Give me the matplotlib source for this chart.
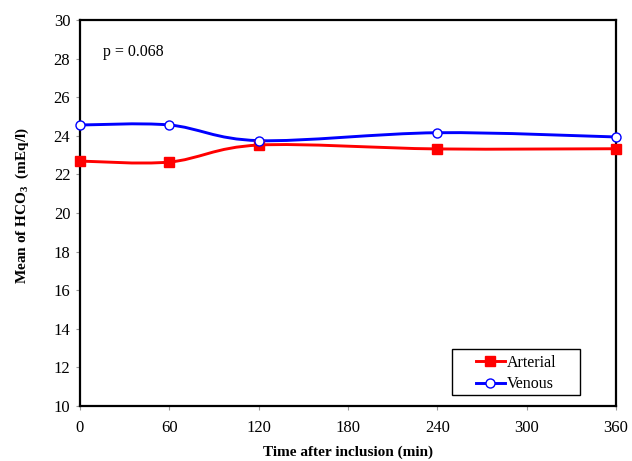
import matplotlib
matplotlib.use("Agg")
import matplotlib.pyplot as plt
from matplotlib.path import Path
from matplotlib.patches import PathPatch, Rectangle
from matplotlib.lines import Line2D
import numpy as np

times = [0, 60, 120, 240, 360]
arterial = [22.69, 22.64, 23.52, 23.32, 23.33]
venous = [24.56, 24.56, 23.75, 24.16, 23.94]
xticks = [0, 60, 120, 180, 240, 300, 360]
yticks = [10, 12, 14, 16, 18, 20, 22, 24, 26, 28, 30]

plt.rcParams['font.family'] = ['Liberation Serif', 'DejaVu Serif']
plt.rcParams['mathtext.fontset'] = 'custom'
plt.rcParams['mathtext.rm'] = 'Liberation Serif'
plt.rcParams['mathtext.bf'] = 'Liberation Serif:bold'

W, H = 632, 461
L, R, T, B = 80, 616, 20, 406

fig = plt.figure(figsize=(W/100, H/100), dpi=100)
ax = fig.add_axes([L/W, 1-B/H, (R-L)/W, (B-T)/H])


def smooth_path(x, y, t=1/6):
    x = np.asarray(x, float); y = np.asarray(y, float)
    n = len(x)
    verts = [(x[0], y[0])]
    codes = [Path.MOVETO]
    for i in range(n - 1):
        p0 = (x[i-1], y[i-1]) if i > 0 else (x[i], y[i])
        p1 = (x[i], y[i]); p2 = (x[i+1], y[i+1])
        p3 = (x[i+2], y[i+2]) if i + 2 < n else (x[i+1], y[i+1])
        c1 = (p1[0] + (p2[0]-p0[0])*t, p1[1] + (p2[1]-p0[1])*t)
        c2 = (p2[0] - (p3[0]-p1[0])*t, p2[1] - (p3[1]-p1[1])*t)
        verts += [c1, c2, p2]
        codes += [Path.CURVE4]*3
    return Path(verts, codes)


LW = 2.1
for ys, col in [(arterial, '#ff0000'), (venous, '#0000ff')]:
    ax.add_patch(PathPatch(smooth_path(times, ys), facecolor='none',
                           edgecolor=col, lw=LW, zorder=2))

ax.plot(times, arterial, ls='none', marker='s', ms=6.5, color='#ff0000',
        mec='#ff0000', zorder=3, clip_on=False)
ax.plot(times, venous, ls='none', marker='o', ms=6.5, mfc='white',
        mec='#0000ff', mew=1.0, zorder=3, clip_on=False)

ax.set_xlim(0, 360)
ax.set_ylim(10, 30)
ax.set_xticks(xticks)
ax.set_yticks(yticks)
ax.tick_params(direction='out', length=3, width=0.8, colors='#999999',
               labelcolor='black', labelsize=12)
ax.tick_params(axis='x', pad=7)
ax.tick_params(axis='y', pad=4)
for s in ax.spines.values():
    s.set_linewidth(1.6)
    s.set_color('black')

ax.set_xlabel('Time after inclusion (min)', fontsize=11, fontweight='bold', labelpad=7)
ax.set_ylabel('Mean of HCO$_\\mathbf{3}$  (mEq/l)', fontsize=11, fontweight='bold', labelpad=16)
ax.yaxis.label.set_y(0.519)

ax.text(0.043, 0.917, 'p = 0.068', transform=ax.transAxes, fontsize=11.5,
        va='center', ha='left')

# legend box
x0, x1, y0, y1 = 452, 580, 349, 395
ax.add_patch(Rectangle(((x0-L)/(R-L), (B-y1)/(B-T)), (x1-x0)/(R-L), (y1-y0)/(B-T),
                       transform=ax.transAxes, facecolor='white', edgecolor='black',
                       lw=1.0, zorder=4))
handles = [
    Line2D([], [], color='#ff0000', lw=LW, marker='s', ms=6.5),
    Line2D([], [], color='#0000ff', lw=LW, marker='o', ms=6.5, mfc='white', mec='#0000ff'),
]
leg = ax.legend(handles, ['Arterial', 'Venous'], loc='center left',
                bbox_to_anchor=((476-L)/(R-L), (B-(y0+y1)/2 - 1.5)/(B-T)), fontsize=11.5,
                frameon=False, handlelength=1.8, handletextpad=0.15, borderpad=0,
                labelspacing=0.35, borderaxespad=0)
leg.set_zorder(5)

fig.savefig('out.png', dpi=100)
